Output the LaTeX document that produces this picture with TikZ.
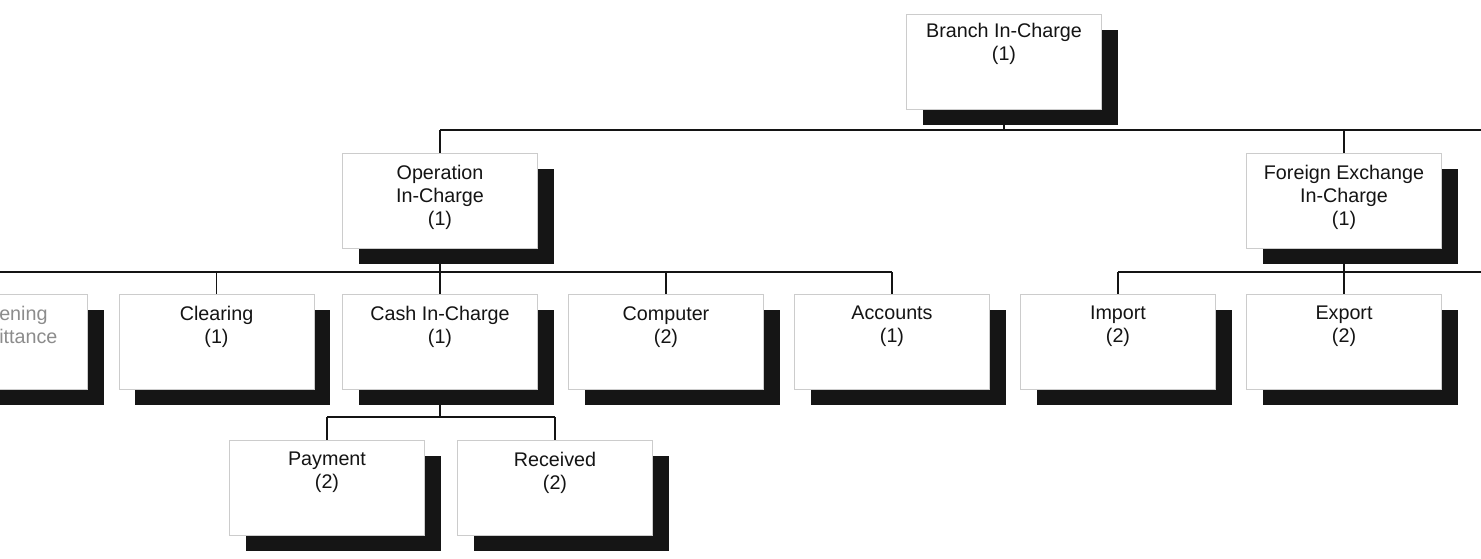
\documentclass[tikz,border=0pt]{standalone}
\usepackage{fontspec}
\setmainfont{Liberation Sans}
\usetikzlibrary{backgrounds}
\definecolor{shadowc}{HTML}{151515}
\definecolor{inkc}{HTML}{141414}
\tikzset{
  orgbox/.style={draw=black!20, line width=0.6pt, fill=white, inner sep=0pt, outer sep=0pt,
    minimum width=146.25pt, minimum height=71.25pt},
  orgtxt/.style={align=center, inner sep=0pt, text=inkc, font=\fontsize{14.8}{17.3}\selectfont},
  link/.style={draw=inkc, line width=1.4pt},
}
\newcommand{\orgnode}[5]{%
  % #1 name, #2 cx, #3 top, #4 text offset, #5 text
  \fill[shadowc] (#2-97.5+16,#3+16) rectangle (#2+97.5+16,#3+95+16);
  \node[orgbox] (#1) at (#2,#3+47.5) {};
  \node[orgtxt, anchor=north] (#1-t) at (#2,#3+#4) {#5};
}
\begin{document}
\begin{tikzpicture}[x=0.75pt,y=-0.75pt]
\useasboundingbox (0,0) rectangle (1481,558);
\clip (0,0) rectangle (1481,558);

\orgnode{branch}{1004}{14}{9}{Branch In-Charge\\(1)}
\orgnode{oper}{440}{153}{12}{Operation\\In-Charge\\(1)}
\orgnode{forex}{1344}{153}{12}{Foreign Exchange\\In-Charge\\(1)}
\orgnode{opening}{-10}{294}{12}{}
\node[orgtxt, anchor=north west, align=left, text=black!45] (opening-t) at (-1,306) {ening\\ittance};
\orgnode{clearing}{216.5}{294}{12}{Clearing\\(1)}
\orgnode{cash}{440}{294}{12}{Cash In-Charge\\(1)}
\orgnode{computer}{666}{294}{12}{Computer\\(2)}
\orgnode{accounts}{892}{294}{12}{Accounts\\(1)}
\orgnode{import}{1118}{294}{12}{Import\\(2)}
\orgnode{export}{1344}{294}{12}{Export\\(2)}
\orgnode{payment}{327}{440}{12}{Payment\\(2)}
\orgnode{received}{555}{440}{12}{Received\\(2)}

\coordinate (b1) at (1004,130);
\coordinate (b1l) at (440,130);
\coordinate (b1r) at (1495,130);
\coordinate (b2o) at (440,272);
\coordinate (b2l) at (-20,272);
\coordinate (b2r) at (892,272);
\coordinate (b2f) at (1344,272);
\coordinate (b2fl) at (1118,272);
\coordinate (b2fr) at (1495,272);
\coordinate (b3) at (440,417);
\coordinate (b3l) at (327,417);
\coordinate (b3r) at (555,417);

\begin{scope}[on background layer]
\clip (0,0) rectangle (1481,558);
\fill[white] (0,0) rectangle (1481,558);
\draw[link] (branch.south) -- (b1);
\draw[link] (b1l) -- (b1r);
\draw[link] (b1l) -- (oper.north);
\draw[link] (forex.north |- b1) -- (forex.north);
\draw[link] (oper.south) -- (b2o);
\draw[link] (b2l) -- (b2r);
\draw[link] (opening.north |- b2o) -- (opening.north);
\draw[link] (clearing.north |- b2o) -- (clearing.north);
\draw[link] (b2o) -- (cash.north);
\draw[link] (computer.north |- b2o) -- (computer.north);
\draw[link] (accounts.north |- b2o) -- (accounts.north);
\draw[link] (forex.south) -- (b2f);
\draw[link] (b2fl) -- (b2fr);
\draw[link] (b2fl) -- (import.north);
\draw[link] (b2f) -- (export.north);
\draw[link] (cash.south) -- (b3);
\draw[link] (b3l) -- (b3r);
\draw[link] (b3l) -- (payment.north);
\draw[link] (b3r) -- (received.north);
\end{scope}
\end{tikzpicture}
\end{document}
